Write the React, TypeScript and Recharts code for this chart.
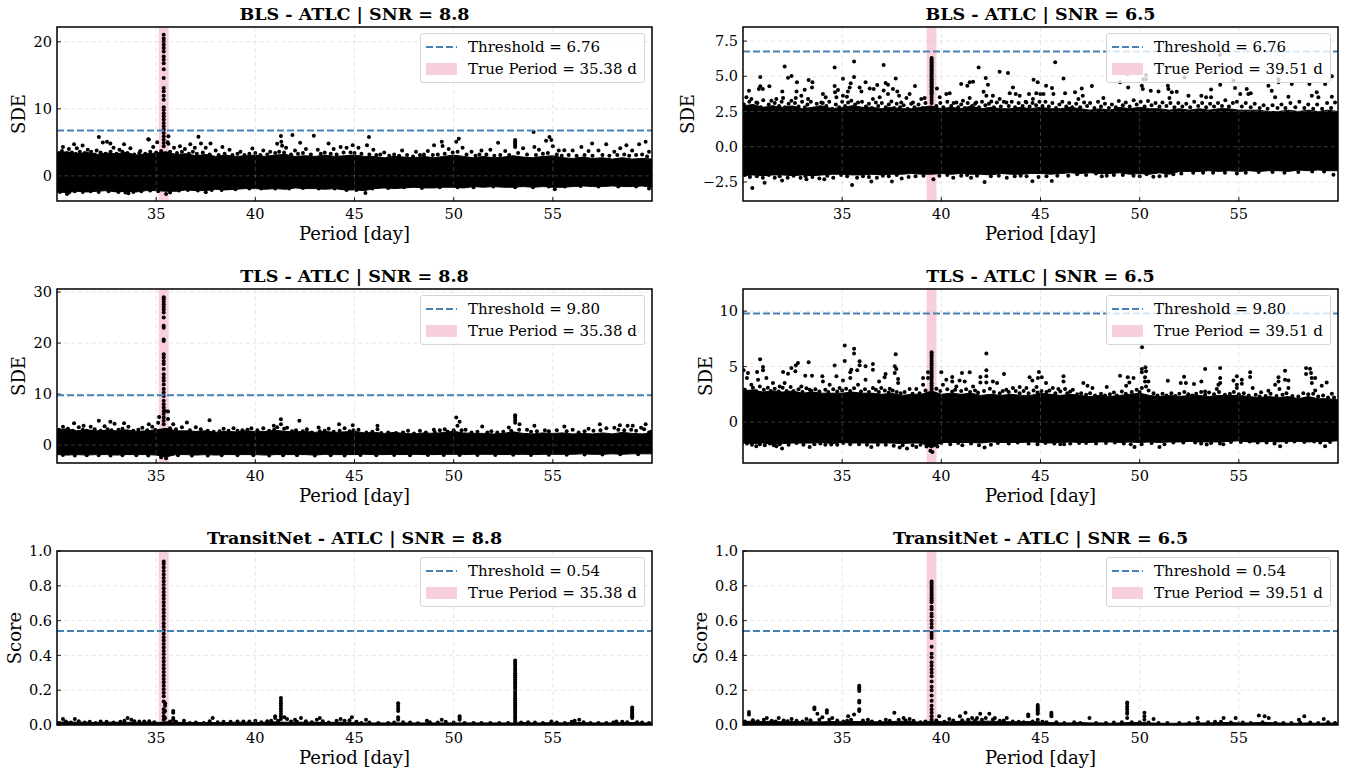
import React from "react";
import {
  ComposedChart,
  Area,
  Scatter,
  XAxis,
  YAxis,
  CartesianGrid,
  ReferenceArea,
  ReferenceLine,
  Label,
} from "recharts";

const SERIF = "'DejaVu Serif', serif";
const STEEL = "#4682b4";
const PINK = "#f9cfdf";

const xTicks = [35, 40, 45, 50, 55];
const periods = [
  30, 30.5, 31, 31.5, 32, 32.5, 33, 33.5, 34, 34.5, 35, 35.5, 36, 36.5, 37, 37.5, 38, 38.5, 39, 39.5,
  40, 40.5, 41, 41.5, 42, 42.5, 43, 43.5, 44, 44.5, 45, 45.5, 46, 46.5, 47, 47.5, 48, 48.5, 49, 49.5,
  50, 50.5, 51, 51.5, 52, 52.5, 53, 53.5, 54, 54.5, 55, 55.5, 56, 56.5, 57, 57.5, 58, 58.5, 59, 59.5, 60,
];

// BLS, SNR 8.8
const blsAUpper = [3.4, 3.6, 3.3, 3.5, 3.2, 3.4, 3.3, 3.5, 3.1, 3.3, 3.4, 3.6, 3.2, 3.3, 3.0, 3.2, 2.9, 3.1, 2.9, 3.0, 3.1, 2.9, 3.1, 3.2, 2.9, 3.0, 2.9, 3.1, 2.9, 3.0, 3.1, 2.9, 2.9, 2.7, 2.9, 2.8, 2.7, 2.9, 2.7, 2.9, 3.1, 2.9, 2.7, 2.9, 2.7, 2.8, 3.0, 2.8, 2.7, 2.9, 3.0, 2.7, 2.6, 2.8, 2.6, 2.7, 2.5, 2.7, 2.5, 2.6, 2.5];
const blsALower = [-2.4, -2.5, -2.3, -2.4, -2.3, -2.2, -2.4, -2.3, -2.4, -2.2, -2.2, -2.3, -2.3, -2.1, -2.2, -2.2, -2.0, -2.1, -2.0, -1.9, -1.9, -2.0, -1.9, -2.0, -1.8, -1.9, -1.9, -2.0, -1.9, -2.1, -2.1, -2.2, -1.9, -1.8, -1.9, -1.8, -1.7, -1.8, -1.8, -1.7, -1.7, -1.8, -1.6, -1.7, -1.6, -1.7, -1.7, -1.6, -1.7, -1.6, -1.7, -1.7, -1.6, -1.5, -1.6, -1.6, -1.5, -1.6, -1.6, -1.5, -1.7];
const blsAPoints = [
  [35.38, 21.05], [35.38, 20.5], [35.38, 20.05], [35.38, 19.55], [35.38, 19.05], [35.38, 18.55], [35.38, 17.8], [35.38, 17.3], [35.38, 16.8], [35.38, 15.9], [35.38, 14.6], [35.38, 13.1], [35.38, 12.6], [35.38, 11.95], [35.38, 11.35], [35.38, 10.25], [35.38, 9.85], [35.38, 9.35], [35.38, 8.9], [35.38, 8.4], [35.38, 7.9], [35.38, 7.4], [35.38, 6.9], [35.38, 6.4], [35.38, 5.9], [35.38, 5.4], [35.38, 4.9], [35.38, 4.4], [35.62, 5.9], [35.62, 4.8], [34.6, 5.45], [35.05, 5.0],
  [32.11, 5.78], [37.13, 5.83], [41.87, 6.08], [42.95, 5.98], [45.73, 5.78], [54.03, 6.53], [54.83, 5.78], [50.26, 5.53], [50.13, 5.08], [41.29, 5.93], [41.31, 5.08], [41.1, 4.8], [41.35, 4.5], [32.31, 4.97], [32.52, 5.08], [30.86, 4.72], [31.29, 4.52], [32.69, 4.82], [33.38, 4.72], [34.63, 5.43], [35.58, 5.0], [37.26, 4.82], [37.74, 4.82], [36.72, 4.72], [38.34, 4.32], [39.85, 4.07], [42.26, 4.92], [43.69, 4.82], [44.91, 4.57], [45.63, 4.57], [49.01, 4.57], [49.4, 5.08], [49.44, 4.47], [52.24, 4.92], [53.1, 5.33], [53.1, 5.08], [53.1, 4.82], [53.1, 4.57], [53.1, 4.32], [54.07, 4.32], [54.66, 5.23], [54.93, 5.33], [55.0, 4.42], [56.98, 4.82], [57.69, 4.72], [59.68, 5.08], [59.35, 4.72], [58.71, 4.57], [56.44, 4.32], [55.58, 3.82],
  [30.3, 4.3], [30.6, 4.0], [31.0, 4.1], [31.55, 3.9], [32.0, 3.8], [32.85, 4.2], [33.15, 3.9], [33.7, 4.1], [34.2, 3.7], [34.85, 4.3], [35.9, 4.2], [36.2, 4.4], [36.45, 4.0], [36.95, 4.2], [37.5, 4.2], [38.0, 3.8], [38.7, 3.9], [39.25, 3.6], [40.4, 3.8], [40.75, 3.6], [41.55, 4.2], [42.0, 3.8], [42.55, 4.0], [43.15, 3.9], [43.95, 4.0], [44.3, 4.3], [44.6, 4.2], [45.2, 4.2], [45.95, 3.9], [46.5, 3.5], [47.4, 3.8], [48.1, 3.6], [48.7, 3.7], [49.75, 4.0], [50.45, 4.2], [50.9, 3.6], [51.4, 3.8], [51.85, 3.9], [52.6, 3.7], [53.5, 4.1], [54.3, 3.9], [55.3, 3.8], [56.0, 3.8], [56.8, 3.7], [57.3, 3.8], [58.1, 3.6], [58.4, 4.1], [59.0, 3.8], [59.85, 3.6],
  [30.5, -2.7], [33.6, -2.6], [35.5, -2.7], [37.5, -2.45], [45.55, -2.55], [55.1, -2.0], [59.85, -1.9],
];
const blsAFringe = [
  [30.1, 3.4], [30.25, 3.7], [30.42, 3.3], [30.75, 3.5], [30.95, 3.3], [31.15, 3.6], [31.4, 3.4], [31.72, 3.6], [31.9, 3.2], [32.2, 3.5], [32.45, 3.3], [32.7, 3.6], [33.0, 3.3], [33.3, 3.6], [33.55, 3.4], [33.9, 3.2], [34.15, 3.4], [34.45, 3.3], [34.7, 3.6], [35.0, 3.5], [35.25, 3.7], [35.7, 3.6], [36.05, 3.4], [36.3, 3.6], [36.65, 3.3], [36.85, 3.6], [37.05, 3.3], [37.35, 3.5], [37.7, 3.2], [38.15, 3.1], [38.45, 3.3], [38.85, 3.1], [39.1, 3.3], [39.45, 3.1], [39.7, 3.3], [40.0, 3.4], [40.25, 3.1], [40.6, 3.2], [41.0, 3.4], [41.2, 3.6], [41.45, 3.5], [41.8, 3.2], [42.15, 3.3], [42.4, 3.4], [42.8, 3.2], [43.3, 3.3], [43.5, 3.5], [43.8, 3.3], [44.1, 3.2], [44.45, 3.5], [44.8, 3.5], [45.0, 3.4], [45.35, 3.3], [45.75, 3.2], [46.1, 3.1], [46.3, 3.2], [46.75, 3.0], [47.0, 3.2], [47.25, 3.0], [47.65, 3.1], [47.95, 2.9], [48.3, 3.1], [48.5, 3.2], [48.95, 3.1], [49.2, 3.2], [49.55, 3.3], [49.95, 3.5], [50.2, 3.6], [50.65, 3.2], [51.1, 3.0], [51.3, 3.2], [51.65, 3.2], [52.05, 3.0], [52.35, 3.1], [52.8, 3.1], [53.25, 3.4], [53.7, 3.2], [54.15, 3.1], [54.5, 3.3], [54.75, 3.4], [55.2, 3.2], [55.45, 3.0], [55.8, 3.1], [56.2, 3.0], [56.6, 3.1], [57.0, 3.0], [57.5, 3.1], [57.85, 3.0], [58.25, 3.1], [58.6, 3.2], [58.85, 3.0], [59.2, 3.1], [59.5, 3.2], [59.75, 2.9],
  [30.15, -2.4], [30.6, -2.5], [30.9, -2.3], [31.3, -2.4], [31.7, -2.3], [32.1, -2.4], [32.6, -2.3], [33.1, -2.4], [33.45, -2.5], [33.85, -2.4], [34.25, -2.3], [34.7, -2.2], [35.1, -2.3], [35.7, -2.5], [36.15, -2.2], [36.6, -2.1], [37.1, -2.2], [37.8, -2.1], [38.3, -2.1], [39.0, -2.0], [39.7, -1.9], [40.3, -1.9], [41.0, -1.9], [41.7, -1.9], [42.4, -1.8], [43.2, -1.9], [44.0, -1.9], [44.6, -2.1], [45.1, -2.1], [45.9, -1.9], [46.7, -1.8], [47.5, -1.7], [48.4, -1.8], [49.3, -1.7], [50.2, -1.7], [51.0, -1.7], [52.0, -1.6], [53.1, -1.7], [54.0, -1.7], [54.8, -1.6], [55.6, -1.6], [56.4, -1.5], [57.3, -1.6], [58.3, -1.6], [59.2, -1.6],
];

// BLS, SNR 6.5
const blsBUpper = [2.9, 3.0, 2.8, 2.9, 2.8, 2.9, 2.7, 2.8, 2.9, 2.7, 2.8, 2.9, 2.8, 2.8, 2.7, 2.8, 2.7, 2.7, 2.8, 2.9, 2.7, 2.8, 2.7, 2.9, 2.7, 2.8, 2.7, 2.7, 2.8, 2.7, 2.8, 2.7, 2.7, 2.8, 2.7, 2.6, 2.7, 2.6, 2.8, 2.7, 2.8, 2.7, 2.7, 2.6, 2.7, 2.6, 2.7, 2.6, 2.7, 2.7, 2.6, 2.6, 2.6, 2.5, 2.5, 2.6, 2.5, 2.6, 2.5, 2.6, 2.5];
const blsBLower = [-2.05, -2.0, -2.05, -2.0, -2.0, -2.05, -2.0, -2.05, -2.0, -1.95, -1.95, -2.0, -2.0, -1.95, -2.0, -1.95, -1.95, -1.9, -1.95, -1.95, -1.9, -1.95, -1.9, -1.95, -1.95, -2.0, -1.9, -1.95, -1.95, -1.9, -1.9, -1.95, -1.9, -1.85, -1.9, -1.85, -1.9, -1.9, -1.85, -1.95, -1.9, -1.95, -1.85, -1.95, -1.75, -1.75, -1.75, -1.7, -1.75, -1.7, -1.75, -1.7, -1.75, -1.7, -1.7, -1.75, -1.65, -1.7, -1.65, -1.7, -1.7];
const blsBPoints = [
  [39.51, 6.3], [39.51, 6.2], [39.51, 6.1], [39.51, 6.0], [39.51, 5.9], [39.51, 5.8], [39.51, 5.7], [39.51, 5.6], [39.51, 5.5], [39.51, 5.4], [39.51, 5.3], [39.51, 5.2], [39.51, 5.1], [39.51, 5.0], [39.51, 4.9], [39.51, 4.8], [39.51, 4.7], [39.51, 4.6], [39.51, 4.5], [39.51, 4.4], [39.51, 4.3], [39.51, 4.2], [39.51, 4.1], [39.51, 4.0], [39.51, 3.9], [39.51, 3.8], [39.51, 3.7], [39.51, 3.5], [39.51, 3.3], [39.51, 3.1],
  [32.1, 5.7], [34.62, 5.63], [35.6, 6.06], [37.09, 5.8], [41.88, 5.63], [42.94, 5.33], [43.36, 5.23], [30.87, 4.95], [32.27, 4.9], [32.45, 5.02], [35.04, 4.83], [35.6, 4.95], [37.7, 4.85], [42.24, 4.88], [44.65, 4.76], [44.86, 4.57], [33.31, 4.73], [33.5, 4.57], [32.72, 4.57], [33.48, 4.2], [31.33, 4.3], [30.87, 4.3], [31.0, 4.1], [30.8, 4.1], [30.3, 3.98], [31.98, 3.93], [32.7, 3.93], [34.62, 4.31], [34.79, 4.03], [34.64, 3.86], [35.43, 4.5], [35.38, 4.2], [35.29, 3.93], [36.18, 4.57], [35.88, 4.2], [35.97, 3.93], [36.39, 4.14], [36.77, 4.38], [36.59, 4.1], [37.19, 4.52], [37.31, 4.4], [37.09, 4.0], [37.31, 3.74], [37.56, 4.1], [37.78, 3.93], [37.87, 3.62], [38.67, 4.31], [38.4, 3.74], [38.24, 3.46], [39.78, 4.14], [40.25, 3.74], [40.42, 3.8], [41.0, 4.45], [41.31, 4.33], [41.43, 4.57], [41.6, 4.62], [42.35, 4.4], [42.13, 3.9], [42.27, 3.62], [42.6, 3.62], [43.61, 4.2], [43.45, 3.79], [43.75, 3.74], [43.95, 3.62], [44.42, 3.74], [44.79, 3.8], [44.99, 3.74],
  [30.17, 3.51], [30.42, 3.39], [30.67, 3.15], [31.43, 3.27], [31.68, 3.39], [32.02, 3.46], [32.44, 3.27], [32.66, 3.46], [32.94, 3.62], [33.11, 4.05], [33.28, 3.39], [34.03, 3.74], [34.17, 3.51], [33.95, 3.15], [34.71, 3.51], [35.04, 3.62], [35.24, 3.55], [35.46, 3.27], [35.8, 3.15], [36.55, 3.39], [36.89, 3.51], [37.48, 3.21], [37.98, 3.15], [38.57, 3.15], [38.99, 3.39], [39.16, 3.46], [39.92, 3.51], [40.76, 3.15], [41.09, 3.27], [41.43, 3.46], [41.76, 3.15], [42.52, 3.21], [42.94, 3.39], [43.28, 3.15], [44.29, 3.15], [44.62, 3.39],
  [45.74, 5.99], [46.16, 4.85], [45.28, 4.33], [45.58, 4.17], [45.15, 3.74], [45.65, 3.74], [47.08, 4.14], [47.59, 4.31], [46.74, 3.86], [47.13, 3.62], [46.91, 3.39], [46.24, 3.79], [48.17, 3.46], [49.42, 4.2], [49.01, 4.57], [49.38, 5.16], [50.11, 4.33], [50.16, 4.1], [50.32, 5.1], [50.32, 4.8], [50.19, 4.8], [50.56, 3.98], [50.95, 3.93], [51.42, 4.33], [51.45, 4.1], [51.62, 3.86], [51.87, 3.9], [52.26, 4.92], [51.5, 3.46], [52.46, 3.62], [53.6, 4.07], [54.06, 4.4], [54.06, 6.53], [54.81, 4.17], [54.73, 4.69], [55.4, 4.1], [55.07, 3.74], [55.48, 3.74], [55.6, 3.79], [53.11, 3.62], [53.35, 3.51], [53.6, 3.51], [56.49, 4.33], [56.66, 3.98], [56.83, 3.51], [57.0, 4.8], [57.0, 4.57], [57.5, 3.55], [57.67, 4.45], [58.56, 4.45], [59.35, 4.45], [59.69, 5.0], [59.69, 3.55], [58.93, 3.86], [58.68, 3.62], [59.01, 3.51],
  [30.47, -2.92], [31.09, -2.55], [31.97, -2.4], [35.5, -2.71], [37.51, -2.47], [42.18, -2.5], [44.59, -2.45], [36.47, -2.47], [33.2, -2.3], [34.1, -2.3], [38.0, -2.25], [39.6, -2.3], [40.6, -2.2], [41.5, -2.2], [43.3, -2.2], [45.57, -2.43], [48.09, -2.1], [48.34, -2.05], [50.69, -2.12], [49.69, -2.05], [51.33, -2.05], [59.77, -1.98],
];
const blsBFringe = [
  [30.05, 3.0], [30.2, 2.8], [30.32, 3.2], [30.48, 2.9], [30.6, 2.7], [30.73, 3.1], [30.9, 2.8], [31.02, 3.3], [31.18, 2.7], [31.3, 3.0], [31.5, 2.8], [31.6, 3.1], [31.82, 2.9], [31.95, 3.2], [32.12, 2.8], [32.3, 3.05], [32.5, 2.75], [32.62, 3.1], [32.8, 2.85], [32.98, 3.2], [33.12, 2.8], [33.25, 3.0], [33.42, 3.2], [33.6, 2.7], [33.72, 3.05], [33.88, 2.8], [34.02, 3.1], [34.2, 2.9], [34.35, 3.2], [34.5, 2.7], [34.68, 3.0], [34.85, 2.8], [35.0, 3.2], [35.15, 2.9], [35.3, 3.15], [35.52, 2.8], [35.65, 3.0], [35.85, 2.75], [36.0, 3.2], [36.2, 2.85], [36.35, 3.05], [36.5, 2.75], [36.7, 3.15], [36.82, 2.9], [37.0, 3.1], [37.2, 2.8], [37.35, 3.0], [37.62, 2.75], [37.75, 3.05], [37.92, 2.8], [38.1, 2.95], [38.3, 2.7], [38.48, 3.05], [38.65, 2.8], [38.85, 3.0], [39.05, 2.75], [39.2, 3.1], [39.75, 2.9], [39.95, 3.1], [40.1, 2.8], [40.3, 3.2], [40.5, 2.9], [40.62, 3.1], [40.85, 2.8], [41.0, 3.0], [41.18, 2.75], [41.33, 3.1], [41.55, 2.9], [41.7, 3.05], [41.9, 2.8], [42.05, 3.2], [42.22, 2.95], [42.4, 3.05], [42.65, 2.8], [42.8, 3.15], [43.0, 2.85], [43.15, 3.2], [43.4, 2.9], [43.55, 3.2], [43.72, 2.8], [43.9, 3.1], [44.1, 2.9], [44.25, 3.2], [44.45, 2.85], [44.6, 3.1], [44.78, 2.95], [44.95, 3.2],
  [45.1, 2.9], [45.25, 3.2], [45.42, 2.85], [45.6, 3.1], [45.78, 2.75], [45.95, 3.0], [46.1, 3.2], [46.3, 2.85], [46.45, 3.1], [46.6, 2.8], [46.8, 3.05], [47.0, 2.8], [47.2, 3.15], [47.35, 2.9], [47.5, 3.1], [47.72, 2.75], [47.9, 3.2], [48.05, 2.85], [48.25, 3.05], [48.45, 2.75], [48.6, 3.0], [48.8, 2.8], [48.95, 3.25], [49.15, 2.95], [49.3, 3.15], [49.5, 2.85], [49.7, 3.3], [49.85, 3.0], [50.05, 3.2], [50.25, 2.85], [50.42, 3.25], [50.6, 2.95], [50.8, 3.1], [51.0, 2.85], [51.15, 3.15], [51.35, 2.9], [51.55, 3.1], [51.75, 2.8], [51.95, 3.1], [52.15, 2.85], [52.35, 3.05], [52.55, 2.8], [52.75, 3.2], [52.95, 2.9], [53.15, 3.1], [53.35, 2.8], [53.55, 3.05], [53.75, 2.85], [53.95, 3.1], [54.15, 2.9], [54.32, 3.3], [54.5, 2.85], [54.7, 3.1], [54.9, 3.2], [55.15, 2.85], [55.35, 3.1], [55.6, 2.8], [55.8, 3.05], [56.05, 2.75], [56.25, 2.95], [56.45, 2.7], [56.7, 2.95], [56.95, 2.75], [57.15, 3.0], [57.35, 2.75], [57.6, 3.1], [57.85, 2.8], [58.05, 3.2], [58.3, 2.75], [58.5, 3.0], [58.75, 2.7], [58.95, 3.0], [59.2, 2.7], [59.45, 3.1], [59.65, 2.75], [59.85, 3.15],
  [30.1, -2.0], [30.35, -2.15], [30.7, -2.1], [31.0, -2.2], [31.3, -2.0], [31.6, -2.2], [31.85, -2.1], [32.25, -2.2], [32.55, -2.05], [32.9, -2.2], [33.15, -2.1], [33.5, -2.15], [33.85, -2.25], [34.25, -2.05], [34.55, -2.2], [34.95, -2.0], [35.25, -2.1], [35.75, -2.2], [36.05, -2.1], [36.35, -2.15], [36.75, -2.2], [37.05, -2.05], [37.35, -2.1], [37.75, -2.0], [38.35, -2.15], [38.7, -2.1], [39.1, -2.05], [39.9, -2.05], [40.3, -2.0], [41.0, -2.05], [41.3, -2.0], [41.8, -2.05], [42.5, -2.1], [42.9, -2.05], [43.7, -2.1], [44.0, -2.05], [44.3, -2.1], [44.9, -2.15], [45.3, -2.1], [45.85, -2.05], [46.4, -2.05], [46.85, -1.95], [47.3, -2.0], [47.8, -1.9], [48.7, -2.0], [49.15, -2.0], [50.0, -2.1], [50.35, -1.95], [51.0, -2.1], [51.7, -1.95], [52.1, -1.9], [52.7, -1.85], [53.2, -1.85], [53.7, -1.85], [54.3, -1.85], [54.9, -1.9], [55.35, -1.85], [56.0, -1.8], [56.7, -1.8], [57.3, -1.85], [58.0, -1.8], [58.7, -1.75], [59.3, -1.75],
];

// TLS, SNR 8.8
const tlsAUpper = [3.0, 3.2, 2.8, 3.0, 2.8, 2.9, 2.8, 3.0, 2.7, 2.8, 3.0, 3.3, 2.8, 2.8, 2.7, 2.8, 2.5, 2.7, 2.6, 2.8, 2.7, 2.7, 2.9, 2.7, 2.6, 2.7, 2.5, 2.7, 2.5, 2.6, 2.7, 2.4, 2.5, 2.3, 2.5, 2.3, 2.2, 2.4, 2.3, 2.5, 2.7, 2.4, 2.3, 2.3, 2.2, 2.3, 2.6, 2.3, 2.2, 2.4, 2.3, 2.4, 2.2, 2.3, 2.2, 2.4, 2.2, 2.5, 2.3, 2.2, 2.4];
const tlsALower = [-1.85, -1.95, -1.85, -1.95, -1.85, -1.85, -1.95, -1.85, -1.85, -1.85, -1.95, -2.3, -1.85, -1.85, -1.95, -1.85, -1.95, -1.85, -1.85, -1.85, -1.85, -1.95, -1.85, -1.85, -1.85, -1.85, -1.95, -1.8, -1.85, -1.85, -1.85, -1.8, -1.85, -1.85, -1.8, -1.85, -1.8, -1.85, -1.85, -1.8, -1.8, -1.85, -1.8, -1.8, -1.8, -1.85, -1.8, -1.8, -1.85, -1.8, -1.8, -1.8, -1.8, -1.7, -1.8, -1.8, -1.7, -1.8, -1.7, -1.7, -1.7];
const tlsAPoints = [
  [35.38, 29.0], [35.38, 28.6], [35.38, 28.1], [35.38, 27.6], [35.38, 27.1], [35.38, 26.6], [35.38, 26], [35.38, 25], [35.38, 23.4], [35.38, 23], [35.38, 20.7], [35.38, 20.4], [35.38, 17.8], [35.38, 17.2], [35.38, 16.5], [35.38, 15.9], [35.38, 14.9], [35.38, 13.9], [35.38, 13.2], [35.38, 12.6], [35.38, 11.9], [35.38, 11], [35.38, 10.3], [35.38, 9.65], [35.38, 8.7], [35.38, 8], [35.38, 7.4], [35.38, 6.7], [35.38, 6.1], [35.38, 5.4], [35.38, 4.8], [35.38, 4.1],
  [35.6, 6.6], [35.45, 6.7], [35.15, 5.5], [35.1, 4.4], [35.6, 5.1], [30.86, 4.3], [31.34, 3.8], [32.11, 4.76], [32.69, 4.56], [33.38, 4.3], [34.63, 4.1], [36.55, 4.43], [35.86, 4.1], [37.69, 4.89], [41.29, 5.09], [41.29, 4.1], [42.22, 4.76], [40.93, 3.78], [43.19, 3.46], [44.22, 4.1], [44.91, 3.9], [46.16, 3.78], [46.16, 3.13], [50.13, 5.4], [50.3, 4.56], [50.19, 3.78], [53.1, 5.87], [53.1, 5.4], [53.1, 4.9], [53.1, 4.4], [53.32, 4.1], [51.44, 3.65], [52.78, 3.46], [54.07, 3.78], [55.58, 3.65], [57.37, 4.1], [58.38, 3.9], [58.77, 3.78], [59.03, 3.78], [59.68, 4.1], [59.45, 3.4], [59.95, 2.6], [49.55, 3.13], [49.0, 3.0],
  [30.3, 3.6], [31.1, 3.5], [31.7, 3.6], [32.4, 3.7], [32.9, 4.2], [33.6, 3.6], [34.3, 3.4], [34.8, 3.6], [36.3, 3.5], [37.0, 3.5], [38.4, 3.2], [38.9, 3.3], [39.8, 3.3], [40.4, 3.3], [41.1, 3.5], [41.6, 3.4], [42.6, 3.1], [43.7, 3.2], [44.5, 3.3], [45.2, 3.0], [47.7, 2.8], [48.3, 2.8], [49.3, 2.9], [50.6, 3.0], [51.9, 2.7], [53.7, 3.0], [54.6, 2.9], [56.0, 3.0], [56.8, 3.2], [57.7, 3.3], [58.1, 3.4],
];
const tlsAFringe = [
  [30.1, 3.0], [30.55, 3.2], [30.8, 2.8], [31.3, 3.0], [31.5, 2.8], [31.9, 3.1], [32.2, 2.8], [32.55, 3.1], [32.75, 2.9], [33.1, 3.0], [33.3, 3.2], [33.85, 2.8], [34.1, 3.0], [34.55, 2.9], [34.95, 3.0], [35.7, 3.3], [36.0, 3.1], [36.7, 2.9], [37.25, 3.1], [37.6, 2.8], [37.9, 2.6], [38.2, 2.7], [38.65, 2.8], [39.1, 2.8], [39.35, 2.9], [39.6, 3.0], [40.1, 2.9], [40.7, 2.8], [40.95, 3.0], [41.45, 3.2], [41.85, 2.7], [42.05, 2.9], [42.4, 2.7], [42.85, 2.5], [43.25, 2.7], [43.5, 2.8], [43.95, 2.6], [44.25, 2.8], [44.75, 2.7], [44.95, 2.9], [45.6, 2.5], [45.9, 2.6], [46.35, 2.4], [46.7, 2.5], [47.1, 2.4], [47.45, 2.5], [48.0, 2.3], [48.6, 2.5], [49.05, 2.5], [49.7, 2.6], [50.0, 2.9], [50.4, 2.9], [50.9, 2.5], [51.2, 2.6], [51.7, 2.5], [52.2, 2.5], [52.5, 2.6], [52.9, 2.8], [53.3, 3.0], [53.9, 2.6], [54.2, 2.7], [54.8, 2.7], [55.2, 2.9], [55.7, 2.7], [56.3, 2.5], [56.6, 2.7], [57.05, 2.8], [57.4, 2.9], [58.3, 3.0], [58.6, 2.9], [58.95, 3.0], [59.2, 2.8], [59.6, 3.1], [59.85, 2.5],
  [30.3, -1.95], [30.9, -2.05], [31.5, -2.0], [32.1, -2.0], [32.7, -2.05], [33.3, -2.0], [34.0, -2.0], [34.6, -2.05], [35.25, -2.35], [35.5, -2.55], [36.1, -2.0], [36.8, -2.05], [37.6, -2.05], [38.3, -2.0], [39.1, -2.0], [39.9, -2.0], [40.7, -2.05], [41.4, -2.0], [42.1, -2.0], [43.0, -2.05], [43.8, -2.0], [44.5, -2.05], [45.3, -1.95], [46.1, -2.0], [47.0, -1.95], [47.8, -2.0], [48.7, -1.95], [49.5, -1.95], [50.3, -1.95], [51.2, -1.95], [52.1, -1.95], [53.0, -1.9], [53.9, -1.95], [54.8, -1.9], [55.7, -1.9], [56.6, -1.85], [57.5, -1.85], [58.4, -1.8], [59.3, -1.8],
];

// TLS, SNR 6.5
const tlsBUpper = [2.8, 2.9, 2.7, 2.8, 2.7, 2.8, 2.6, 2.7, 2.6, 2.6, 2.6, 2.7, 2.6, 2.6, 2.5, 2.6, 2.4, 2.5, 2.5, 2.8, 2.5, 2.6, 2.5, 2.6, 2.4, 2.5, 2.4, 2.5, 2.4, 2.4, 2.6, 2.5, 2.4, 2.5, 2.4, 2.3, 2.4, 2.3, 2.4, 2.5, 2.6, 2.4, 2.3, 2.4, 2.3, 2.4, 2.4, 2.3, 2.4, 2.4, 2.4, 2.3, 2.2, 2.3, 2.2, 2.3, 2.1, 2.3, 2.1, 2.1, 2.0];
const tlsBLower = [-1.9, -1.95, -1.9, -2.0, -1.95, -1.9, -1.9, -1.9, -1.85, -1.95, -1.85, -1.9, -1.9, -1.9, -1.9, -1.9, -1.95, -1.9, -1.9, -2.35, -1.85, -1.85, -1.85, -1.85, -1.9, -1.8, -1.85, -1.85, -1.85, -1.8, -1.85, -1.9, -1.85, -1.8, -1.85, -1.85, -1.8, -1.8, -1.85, -1.8, -1.85, -1.8, -1.85, -1.8, -1.8, -1.75, -1.8, -1.8, -1.8, -1.75, -1.7, -1.8, -1.8, -1.75, -1.8, -1.75, -1.75, -1.8, -1.75, -1.75, -1.7];
const tlsBPoints = [
  [39.51, 6.3], [39.51, 6.1], [39.51, 5.9], [39.51, 5.7], [39.51, 5.5], [39.51, 5.3], [39.51, 5.1], [39.51, 4.9], [39.51, 4.7], [39.51, 4.5], [39.51, 4.3], [39.51, 4.1], [39.51, 3.9], [39.51, 3.7], [39.51, 3.5], [39.51, 3.3], [39.51, 3.1], [39.51, 2.9], [39.55, -2.7], [39.45, -2.6],
  [35.13, 6.9], [35.6, 6.6], [35.6, 6.18], [37.7, 6.12], [30.86, 5.66], [35.13, 5.51], [35.88, 5.48], [35.88, 5.12], [33.31, 5.39], [32.77, 5.33], [32.66, 5.09], [32.44, 4.88], [32.64, 4.57], [31.01, 4.97], [31.01, 4.66], [34.62, 5.09], [36.55, 5.24], [36.55, 4.72], [36.18, 5.03], [37.65, 5.03], [37.73, 4.78], [35.46, 4.72], [35.41, 4.48], [35.76, 4.66], [30.03, 4.66], [30.25, 4.42], [30.2, 3.97], [30.71, 4.51], [32.02, 4.51], [32.27, 4.36], [33.14, 4.18], [33.48, 4.18], [34.0, 4.12], [34.71, 4.12], [35.04, 3.75], [35.41, 3.97], [35.8, 3.36], [36.18, 3.81], [37.19, 4.33], [36.86, 3.66], [37.14, 4.03], [37.65, 4.42], [37.82, 3.87], [37.82, 3.51], [39.33, 4.48], [39.08, 3.97], [39.33, 3.97], [39.08, 3.36], [40.0, 4.48], [40.55, 4.06], [40.55, 3.66], [41.04, 4.42], [41.43, 4.48], [40.92, 3.75], [41.18, 3.66], [40.25, 3.81], [42.27, 6.18], [42.27, 4.66], [41.97, 4.06], [42.27, 4.12], [41.97, 3.57], [42.27, 3.57], [43.16, 4.33], [42.6, 3.66], [42.81, 3.51], [44.45, 4.03], [44.59, 3.75], [44.92, 4.51], [44.87, 3.97], [43.95, 3.15], [44.8, 3.15],
  [30.42, 3.36], [30.76, 3.81], [31.18, 3.97], [31.51, 3.51], [31.85, 3.2], [32.1, 3.51], [32.94, 3.2], [33.36, 2.9], [34.03, 3.66], [34.37, 3.36], [34.87, 3.06], [36.97, 3.06], [36.55, 3.06], [37.4, 3.0], [38.4, 2.97], [38.74, 2.97], [40.08, 3.36], [40.76, 3.2], [41.6, 3.2], [43.28, 2.9], [43.61, 3.06], [44.29, 3.06],
  [50.12, 6.75], [50.29, 4.94], [50.11, 4.78], [50.32, 4.57], [50.11, 4.48], [50.27, 4.03], [50.44, 3.66], [50.27, 3.66], [50.11, 3.06], [50.32, 3.21], [49.01, 4.18], [49.4, 4.03], [49.69, 3.97], [49.48, 3.57], [49.32, 3.27], [46.16, 4.12], [46.16, 3.66], [45.06, 4.03], [45.28, 3.51], [47.16, 3.51], [47.37, 3.27], [47.62, 3.06], [48.34, 3.15], [45.62, 3.06], [45.9, 2.97], [46.24, 2.97], [46.63, 2.9], [51.42, 3.72], [52.24, 4.09], [52.07, 3.51], [52.33, 3.51], [52.74, 3.42], [53.3, 4.78], [53.11, 3.66], [54.06, 4.88], [54.06, 3.97], [54.06, 3.51], [53.97, 3.36], [53.89, 2.97], [53.3, 2.75], [54.9, 4.12], [55.15, 3.81], [55.15, 3.45], [54.73, 3.75], [54.9, 3.36], [54.9, 3.06], [55.57, 4.48], [55.57, 4.06], [55.7, 3.06], [56.12, 2.69], [56.49, 2.81], [56.83, 3.36], [57.0, 4.03], [57.0, 3.66], [57.05, 2.97], [57.33, 4.63], [57.33, 3.81], [57.5, 3.75], [57.5, 3.06], [58.39, 4.88], [58.59, 4.81], [58.39, 4.33], [58.64, 4.42], [58.68, 3.97], [58.85, 3.97], [58.68, 3.51], [59.18, 3.27], [59.43, 3.57], [58.85, 2.85], [59.69, 2.54],
  [30.67, -2.19], [31.68, -2.19], [31.97, -2.4], [33.36, -2.25], [34.45, -2.03], [36.47, -2.25], [37.9, -2.31], [38.27, -2.4], [38.74, -2.25], [41.06, -2.09], [42.18, -2.31], [49.74, -2.25], [51.0, -2.25], [46.19, -2.0], [57.08, -2.19], [59.35, -2.19], [54.22, -2.0], [53.38, -2.03],
];
const tlsBFringe = [
  [30.1, 2.9], [30.3, 2.7], [30.5, 3.1], [30.65, 2.8], [30.85, 3.2], [31.05, 2.9], [31.25, 3.1], [31.4, 2.8], [31.6, 3.0], [31.8, 2.75], [32.0, 3.1], [32.2, 2.8], [32.4, 3.15], [32.55, 2.8], [32.8, 2.95], [33.0, 2.7], [33.2, 3.05], [33.45, 2.8], [33.65, 2.95], [33.85, 2.75], [34.15, 2.9], [34.3, 2.7], [34.55, 2.95], [34.75, 2.75], [35.0, 2.85], [35.2, 3.0], [35.4, 2.8], [35.6, 3.05], [35.95, 2.75], [36.15, 2.95], [36.35, 2.7], [36.7, 2.9], [36.85, 2.7], [37.15, 2.85], [37.35, 2.65], [37.55, 2.85], [37.75, 2.7], [37.95, 2.6], [38.15, 2.7], [38.55, 2.55], [38.9, 2.6], [39.2, 2.85], [39.75, 3.0], [39.95, 2.8], [40.3, 2.95], [40.55, 2.75], [40.7, 2.9], [41.0, 2.8], [41.25, 2.95], [41.45, 2.7], [41.7, 2.85], [41.85, 2.65], [42.15, 2.8], [42.45, 3.0], [42.65, 2.7], [42.95, 2.6], [43.1, 2.8], [43.4, 2.7], [43.75, 2.8], [43.95, 2.6], [44.15, 2.8], [44.4, 2.6], [44.65, 2.85], [44.85, 2.65],
  [45.05, 2.8], [45.3, 2.7], [45.45, 2.85], [45.75, 2.6], [46.0, 2.75], [46.35, 2.6], [46.5, 2.75], [46.85, 2.5], [47.05, 2.6], [47.3, 2.45], [47.5, 2.6], [47.75, 2.4], [48.05, 2.55], [48.25, 2.4], [48.5, 2.5], [48.7, 2.65], [48.85, 2.4], [49.1, 2.75], [49.3, 2.55], [49.6, 2.7], [49.85, 2.9], [50.0, 2.7], [50.45, 2.85], [50.7, 2.6], [50.9, 2.4], [51.15, 2.55], [51.35, 2.4], [51.6, 2.6], [51.8, 2.35], [52.0, 2.55], [52.25, 2.7], [52.45, 2.5], [52.65, 2.4], [52.85, 2.55], [53.1, 2.7], [53.3, 2.45], [53.5, 2.65], [53.75, 2.5], [54.0, 2.7], [54.3, 2.45], [54.55, 2.55], [54.75, 2.7], [55.0, 2.5], [55.25, 2.6], [55.5, 2.4], [55.85, 2.45], [56.05, 2.3], [56.35, 2.35], [56.6, 2.55], [56.9, 2.35], [57.2, 2.45], [57.4, 2.6], [57.7, 2.35], [58.0, 2.3], [58.25, 2.6], [58.5, 2.5], [58.75, 2.55], [59.0, 2.3], [59.25, 2.4], [59.5, 2.2], [59.8, 2.2],
  [30.2, -1.95], [30.45, -2.05], [30.85, -2.0], [31.1, -2.1], [31.35, -1.95], [31.55, -2.1], [31.85, -2.0], [32.3, -2.05], [32.7, -1.9], [33.05, -2.05], [33.6, -2.0], [33.9, -1.95], [34.15, -2.05], [34.75, -2.05], [35.05, -1.9], [35.4, -2.0], [35.85, -2.0], [36.25, -2.05], [36.8, -2.05], [37.2, -2.05], [37.6, -2.15], [38.05, -2.1], [38.55, -2.1], [38.95, -2.05], [39.25, -2.2], [39.8, -2.2], [40.0, -1.9], [40.45, -2.0], [40.85, -1.9], [41.5, -1.95], [41.9, -2.1], [42.5, -2.05], [42.85, -1.9], [43.4, -1.95], [43.85, -1.85], [44.4, -1.95], [44.85, -2.0], [45.25, -1.9], [45.7, -1.95], [46.0, -2.0], [46.5, -1.95], [46.95, -1.9], [47.3, -1.9], [47.8, -1.95], [48.3, -1.9], [48.75, -1.85], [49.2, -1.95], [49.55, -2.0], [50.1, -2.0], [50.6, -1.9], [51.25, -2.0], [51.7, -1.85], [52.2, -1.85], [52.8, -1.85], [53.1, -1.95], [53.6, -1.9], [54.05, -1.95], [54.6, -1.8], [55.1, -1.8], [55.55, -1.75], [55.95, -1.85], [56.4, -1.85], [56.8, -1.95], [57.4, -1.8], [57.8, -1.75], [58.3, -1.8], [58.8, -1.75], [59.1, -1.85], [59.6, -1.8],
];

// TransitNet, SNR 8.8
const netAUpper = [0.016, 0.018, 0.016, 0.016, 0.014, 0.016, 0.016, 0.016, 0.014, 0.016, 0.014, 0.018, 0.016, 0.014, 0.014, 0.014, 0.014, 0.014, 0.016, 0.016, 0.014, 0.016, 0.018, 0.016, 0.016, 0.016, 0.016, 0.014, 0.016, 0.016, 0.014, 0.012, 0.012, 0.012, 0.012, 0.012, 0.012, 0.012, 0.012, 0.012, 0.012, 0.012, 0.012, 0.012, 0.012, 0.012, 0.012, 0.014, 0.012, 0.012, 0.014, 0.012, 0.014, 0.014, 0.012, 0.012, 0.012, 0.014, 0.014, 0.012, 0.012];
const netALower = [0, 0, 0, 0, 0, 0, 0, 0, 0, 0, 0, 0, 0, 0, 0, 0, 0, 0, 0, 0, 0, 0, 0, 0, 0, 0, 0, 0, 0, 0, 0, 0, 0, 0, 0, 0, 0, 0, 0, 0, 0, 0, 0, 0, 0, 0, 0, 0, 0, 0, 0, 0, 0, 0, 0, 0, 0, 0, 0, 0, 0];
const netAPoints = [
  [35.38, 0.94], [35.38, 0.925], [35.38, 0.905], [35.38, 0.885], [35.38, 0.865], [35.38, 0.845], [35.38, 0.825], [35.38, 0.805], [35.38, 0.785], [35.38, 0.765], [35.38, 0.745], [35.38, 0.725], [35.38, 0.705], [35.38, 0.685], [35.38, 0.665], [35.38, 0.645], [35.38, 0.625], [35.38, 0.605], [35.38, 0.585], [35.38, 0.565], [35.38, 0.545], [35.38, 0.525], [35.38, 0.505], [35.38, 0.485], [35.38, 0.465], [35.38, 0.445], [35.38, 0.425], [35.38, 0.405], [35.38, 0.385], [35.38, 0.365], [35.38, 0.345], [35.38, 0.325], [35.38, 0.305], [35.38, 0.285], [35.38, 0.265], [35.38, 0.245], [35.38, 0.225], [35.38, 0.205], [35.38, 0.185], [35.38, 0.165], [35.38, 0.135], [35.45, 0.125], [35.45, 0.11], [35.38, 0.09], [35.45, 0.08], [35.38, 0.07], [35.38, 0.05], [35.45, 0.04], [35.38, 0.03],
  [35.86, 0.08], [35.86, 0.07], [35.86, 0.04], [35.86, 0.03], [47.2, 0.125], [47.2, 0.11], [47.2, 0.095], [47.2, 0.08], [47.2, 0.045], [47.2, 0.03],
  [41.29, 0.155], [41.29, 0.14], [41.29, 0.125], [41.29, 0.11], [41.29, 0.095], [41.29, 0.08], [41.29, 0.065], [41.29, 0.05], [41.29, 0.035],
  [53.1, 0.37], [53.1, 0.358], [53.1, 0.346], [53.1, 0.334], [53.1, 0.322], [53.1, 0.31], [53.1, 0.298], [53.1, 0.286], [53.1, 0.274], [53.1, 0.262], [53.1, 0.25], [53.1, 0.238], [53.1, 0.226], [53.1, 0.214], [53.1, 0.202], [53.1, 0.19], [53.1, 0.178], [53.1, 0.166], [53.1, 0.154], [53.1, 0.142], [53.1, 0.13], [53.1, 0.118], [53.1, 0.106], [53.1, 0.094], [53.1, 0.082], [53.1, 0.07], [53.1, 0.058], [53.1, 0.046], [53.1, 0.034], [53.1, 0.022],
  [59.0, 0.1], [59.0, 0.09], [59.0, 0.08], [59.0, 0.07], [59.0, 0.06], [59.0, 0.05], [59.0, 0.04], [50.3, 0.05], [50.3, 0.04], [50.3, 0.03],
  [41.0, 0.05], [41.0, 0.04], [37.85, 0.04], [44.87, 0.045], [44.3, 0.035], [33.56, 0.04], [33.75, 0.03], [30.3, 0.035], [30.9, 0.035], [41.47, 0.045], [41.6, 0.035], [42.3, 0.04], [42.0, 0.03], [43.25, 0.04], [43.1, 0.03], [45.58, 0.03], [49.4, 0.03], [48.65, 0.025], [56.33, 0.03], [56.1, 0.025], [54.93, 0.02], [36.4, 0.025], [58.2, 0.02], [40.0, 0.025],
];
const netAFringe = [
  [30.1, 0.012], [30.45, 0.02], [30.7, 0.014], [31.1, 0.022], [31.4, 0.014], [31.65, 0.018], [31.95, 0.012], [32.2, 0.02], [32.5, 0.018], [32.85, 0.014], [33.2, 0.018], [33.4, 0.024], [33.9, 0.022], [34.15, 0.02], [34.4, 0.02], [34.65, 0.022], [34.9, 0.016], [35.7, 0.02], [36.0, 0.018], [36.7, 0.012], [37.0, 0.014], [37.4, 0.012], [37.7, 0.022], [38.1, 0.016], [38.4, 0.018], [38.75, 0.018], [39.1, 0.02], [39.4, 0.02], [39.7, 0.02], [40.3, 0.016], [40.6, 0.022], [40.8, 0.024], [41.15, 0.024], [41.8, 0.02], [42.1, 0.018], [42.55, 0.022], [42.85, 0.016], [43.4, 0.022], [43.7, 0.014], [44.1, 0.024], [44.5, 0.024], [44.75, 0.028], [45.1, 0.018], [45.35, 0.012], [45.75, 0.014], [46.2, 0.012], [46.7, 0.012], [47.0, 0.014], [47.45, 0.016], [47.8, 0.014], [48.2, 0.01], [48.8, 0.016], [49.2, 0.014], [49.6, 0.018], [50.0, 0.014], [50.55, 0.012], [51.0, 0.012], [51.4, 0.012], [51.85, 0.012], [52.3, 0.012], [52.75, 0.012], [53.4, 0.014], [53.75, 0.016], [54.1, 0.014], [54.5, 0.012], [55.2, 0.014], [55.6, 0.012], [55.95, 0.018], [56.55, 0.016], [56.9, 0.012], [57.3, 0.012], [57.7, 0.012], [58.05, 0.014], [58.5, 0.018], [58.75, 0.016], [59.25, 0.016], [59.5, 0.014], [59.85, 0.012],
];

// TransitNet, SNR 6.5
const netBUpper = [0.02, 0.022, 0.02, 0.022, 0.018, 0.02, 0.018, 0.018, 0.018, 0.02, 0.018, 0.02, 0.02, 0.018, 0.018, 0.02, 0.022, 0.02, 0.016, 0.022, 0.02, 0.018, 0.022, 0.022, 0.022, 0.022, 0.02, 0.018, 0.018, 0.02, 0.018, 0.014, 0.012, 0.012, 0.014, 0.012, 0.012, 0.01, 0.012, 0.014, 0.014, 0.012, 0.01, 0.01, 0.01, 0.012, 0.012, 0.012, 0.014, 0.014, 0.012, 0.012, 0.014, 0.014, 0.012, 0.01, 0.01, 0.012, 0.01, 0.012, 0.01];
const netBLower = [0, 0, 0, 0, 0, 0, 0, 0, 0, 0, 0, 0, 0, 0, 0, 0, 0, 0, 0, 0, 0, 0, 0, 0, 0, 0, 0, 0, 0, 0, 0, 0, 0, 0, 0, 0, 0, 0, 0, 0, 0, 0, 0, 0, 0, 0, 0, 0, 0, 0, 0, 0, 0, 0, 0, 0, 0, 0, 0, 0, 0];
const netBPoints = [
  [39.51, 0.825], [39.51, 0.813], [39.51, 0.801], [39.51, 0.789], [39.51, 0.777], [39.51, 0.765], [39.51, 0.753], [39.51, 0.741], [39.51, 0.729], [39.51, 0.717], [39.51, 0.705], [39.51, 0.68], [39.51, 0.665], [39.51, 0.64], [39.51, 0.625], [39.51, 0.6], [39.51, 0.58], [39.51, 0.56], [39.51, 0.53], [39.51, 0.515], [39.51, 0.5], [39.51, 0.45], [39.51, 0.41], [39.51, 0.39], [39.51, 0.36], [39.51, 0.34], [39.51, 0.32], [39.51, 0.3], [39.51, 0.28], [39.51, 0.25], [39.51, 0.22], [39.51, 0.2], [39.51, 0.17], [39.51, 0.14], [39.51, 0.11], [39.51, 0.09], [39.51, 0.07], [39.51, 0.05], [39.51, 0.03],
  [35.86, 0.225], [35.86, 0.215], [35.86, 0.205], [35.86, 0.195], [35.86, 0.14], [35.86, 0.13], [35.86, 0.09], [35.86, 0.08], [33.6, 0.1], [33.6, 0.09], [34.23, 0.085], [34.23, 0.07], [33.75, 0.065], [30.3, 0.075], [30.3, 0.06], [35.6, 0.06], [37.63, 0.07], [39.89, 0.05], [40.94, 0.05], [41.22, 0.07], [41.96, 0.065], [42.42, 0.065], [42.24, 0.04], [41.55, 0.04],
  [44.86, 0.115], [44.86, 0.105], [44.86, 0.095], [44.86, 0.085], [44.86, 0.075], [44.86, 0.065], [44.86, 0.03], [44.38, 0.06], [44.38, 0.05], [45.55, 0.07], [45.55, 0.06], [45.55, 0.05], [47.47, 0.04],
  [49.37, 0.13], [49.37, 0.12], [49.37, 0.105], [49.37, 0.09], [49.37, 0.075], [49.37, 0.065], [49.37, 0.04], [50.24, 0.07], [50.24, 0.05], [50.24, 0.03], [50.7, 0.035], [52.92, 0.04], [54.23, 0.04], [54.84, 0.04], [56.01, 0.055], [56.3, 0.05], [56.51, 0.04], [58.3, 0.05], [59.28, 0.035], [58.03, 0.03],
  [31.2, 0.04], [31.8, 0.04], [32.45, 0.035], [33.2, 0.035], [34.0, 0.045], [34.5, 0.04], [35.3, 0.05], [36.3, 0.03], [37.2, 0.03], [38.1, 0.04], [38.4, 0.035], [40.4, 0.035], [41.8, 0.04], [42.7, 0.04], [43.3, 0.04],
];
const netBFringe = [
  [30.1, 0.02], [30.5, 0.028], [30.75, 0.022], [31.05, 0.03], [31.45, 0.024], [31.65, 0.02], [32.05, 0.026], [32.25, 0.022], [32.7, 0.024], [33.0, 0.02], [33.4, 0.028], [33.85, 0.03], [34.35, 0.03], [34.75, 0.026], [35.05, 0.02], [35.25, 0.024], [35.45, 0.03], [36.05, 0.026], [36.5, 0.02], [36.9, 0.018], [37.4, 0.024], [37.85, 0.03], [38.2, 0.026], [38.6, 0.024], [38.95, 0.016], [39.2, 0.02], [39.75, 0.026], [40.15, 0.018], [40.6, 0.026], [41.05, 0.028], [41.35, 0.03], [41.7, 0.026], [42.05, 0.03], [42.6, 0.032], [42.95, 0.024], [43.15, 0.026], [43.6, 0.02], [43.9, 0.018], [44.15, 0.016], [44.6, 0.02], [45.1, 0.018], [45.3, 0.016], [45.8, 0.016], [46.2, 0.012], [46.7, 0.016], [47.0, 0.012], [47.8, 0.012], [48.3, 0.012], [48.7, 0.014], [49.1, 0.016], [49.6, 0.016], [50.0, 0.016], [50.45, 0.014], [50.95, 0.012], [51.4, 0.012], [52.0, 0.012], [52.5, 0.012], [52.95, 0.014], [53.45, 0.016], [53.8, 0.018], [54.1, 0.018], [54.6, 0.014], [55.2, 0.014], [55.6, 0.012], [56.2, 0.016], [56.85, 0.012], [57.25, 0.012], [57.65, 0.012], [58.1, 0.014], [58.6, 0.014], [59.0, 0.012], [59.5, 0.016], [59.85, 0.012],
];

const panels = [
  { title: "BLS - ATLC | SNR = 8.8", yLabel: "SDE", labelX: 40, plotLeft: 57, top: 0, domain: [-3.75, 22.2], ticks: [0, 10, 20], decimals: 0, threshold: 6.76, truePeriod: 35.38, upper: blsAUpper, lower: blsALower, points: [...blsAPoints, ...blsAFringe] },
  { title: "BLS - ATLC | SNR = 6.5", yLabel: "SDE", labelX: 23, plotLeft: 743, top: 0, domain: [-3.85, 8.5], ticks: [-2.5, 0, 2.5, 5, 7.5], decimals: 1, threshold: 6.76, truePeriod: 39.51, upper: blsBUpper, lower: blsBLower, points: [...blsBPoints, ...blsBFringe] },
  { title: "TLS - ATLC | SNR = 8.8", yLabel: "SDE", labelX: 40, plotLeft: 57, top: 262, domain: [-3.5, 30.6], ticks: [0, 10, 20, 30], decimals: 0, threshold: 9.8, truePeriod: 35.38, upper: tlsAUpper, lower: tlsALower, points: [...tlsAPoints, ...tlsAFringe] },
  { title: "TLS - ATLC | SNR = 6.5", yLabel: "SDE", labelX: 41, plotLeft: 743, top: 262, domain: [-3.7, 12], ticks: [0, 5, 10], decimals: 0, threshold: 9.8, truePeriod: 39.51, upper: tlsBUpper, lower: tlsBLower, points: [...tlsBPoints, ...tlsBFringe] },
  { title: "TransitNet - ATLC | SNR = 8.8", yLabel: "Score", labelX: 36, plotLeft: 57, top: 524, domain: [0, 1], ticks: [0, 0.2, 0.4, 0.6, 0.8, 1], decimals: 1, threshold: 0.54, truePeriod: 35.38, upper: netAUpper, lower: netALower, points: [...netAPoints, ...netAFringe] },
  { title: "TransitNet - ATLC | SNR = 6.5", yLabel: "Score", labelX: 36, plotLeft: 743, top: 524, domain: [0, 1], ticks: [0, 0.2, 0.4, 0.6, 0.8, 1], decimals: 1, threshold: 0.54, truePeriod: 39.51, upper: netBUpper, lower: netBLower, points: [...netBPoints, ...netBFringe] },
];

const Dot = (props: any) => <circle cx={props.cx} cy={props.cy} r={2} fill="#000" />;

function PanelLegend({ threshold, truePeriod }: { threshold: number; truePeriod: number }) {
  const row: React.CSSProperties = { position: "absolute", left: 47, whiteSpace: "nowrap", lineHeight: "18px" };
  return (
    <div style={{ position: "absolute", left: 440, top: 33, width: 225, height: 50, boxSizing: "border-box", background: "rgba(255,255,255,0.8)", border: "1px solid #d5d5d5", borderRadius: 3, fontFamily: SERIF, fontSize: 15, color: "#000" }}>
      <svg width={40} height={50} style={{ position: "absolute", left: 0, top: 0 }}>
        <line x1={5} x2={36} y1={13} y2={13} stroke={STEEL} strokeWidth={2} strokeDasharray="7 3" />
        <rect x={5} y={29} width={31} height={12} fill={PINK} />
      </svg>
      <div style={{ ...row, top: 4 }}>Threshold = {threshold.toFixed(2)}</div>
      <div style={{ ...row, top: 26 }}>True Period = {truePeriod.toFixed(2)} d</div>
    </div>
  );
}

function Panel({ p }: { p: (typeof panels)[number] }) {
  const rows = periods.map((x, i) => ({ x, band: [p.lower[i], p.upper[i]] }));
  const pts = p.points.map(([x, y]) => ({ x, y }));
  const fmt = (v: number) => v.toFixed(p.decimals).replace("-", "\u2212");
  return (
    <div style={{ position: "absolute", left: p.plotLeft - 77, top: p.top, width: 680, height: 250 }}>
      <ComposedChart width={680} height={250} data={rows} margin={{ top: 27, right: 8, bottom: 0, left: 0 }}>
        <ReferenceArea x1={p.truePeriod - 0.25} x2={p.truePeriod + 0.25} fill={PINK} fillOpacity={1} stroke="none" zIndex={-50} />
        <XAxis
          dataKey="x"
          type="number"
          domain={[30, 60]}
          ticks={xTicks}
          height={49}
          interval={0}
          allowDataOverflow
          tickSize={-4}
          tickMargin={12}
          tick={{ fill: "#000", fontSize: 14.5, fontFamily: SERIF }}
          tickLine={{ stroke: "#000", strokeWidth: 1 }}
          axisLine={false}
        >
          <Label value="Period [day]" position="insideBottom" offset={10} style={{ fill: "#000", fontSize: 18, fontFamily: SERIF }} />
        </XAxis>
        <YAxis
          type="number"
          domain={p.domain}
          ticks={p.ticks}
          width={77}
          interval={0}
          allowDataOverflow
          tickSize={-4}
          tickMargin={9}
          tickFormatter={fmt}
          tick={{ fill: "#000", fontSize: 14.5, fontFamily: SERIF }}
          tickLine={{ stroke: "#000", strokeWidth: 1 }}
          axisLine={false}
        >
          <Label
            content={() => (
              <text x={p.labelX} y={114} transform={`rotate(-90 ${p.labelX} 114)`} textAnchor="middle" dominantBaseline="middle" fontSize={18} fontFamily={SERIF} fill="#000">
                {p.yLabel}
              </text>
            )}
          />
        </YAxis>
        <Area dataKey="band" type="linear" fill="#000" fillOpacity={1} stroke="#000" strokeWidth={1} dot={false} activeDot={false} isAnimationActive={false} />
        <Scatter data={pts} dataKey="y" shape={Dot} isAnimationActive={false} />
        <CartesianGrid stroke="#b0b0b0" strokeOpacity={0.3} strokeDasharray="4 3" zIndex={700} />
        <ReferenceLine y={p.threshold} stroke={STEEL} strokeWidth={2} strokeDasharray="7 3" zIndex={800} />
        <ReferenceArea x1={30} x2={60} y1={p.domain[0]} y2={p.domain[1]} fill="none" stroke="#000" strokeWidth={1.5} zIndex={900} />
      </ComposedChart>
      <div style={{ position: "absolute", left: 77, width: 595, top: 2, textAlign: "center", fontFamily: SERIF, fontWeight: 700, fontSize: 17.5, lineHeight: "24px", color: "#000", whiteSpace: "nowrap" }}>
        {p.title}
      </div>
      <PanelLegend threshold={p.threshold} truePeriod={p.truePeriod} />
    </div>
  );
}

export default function App() {
  return (
    <div style={{ position: "absolute", left: 0, top: 0, width: 1349, height: 771, background: "#fff", overflow: "hidden" }}>
      {panels.map((p) => (
        <Panel key={p.title} p={p} />
      ))}
    </div>
  );
}
